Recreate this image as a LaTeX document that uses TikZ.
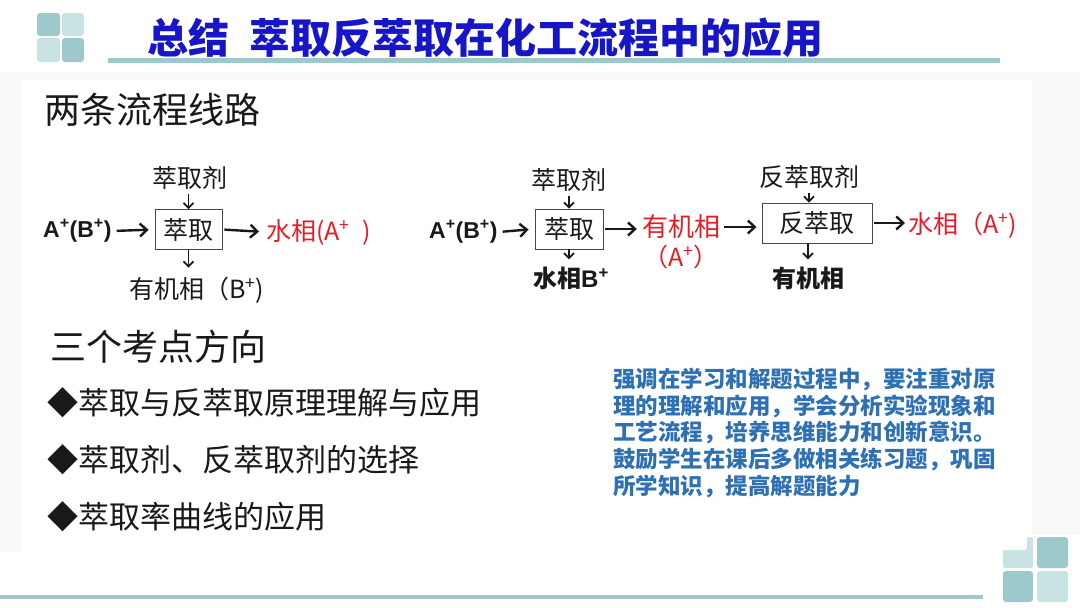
\documentclass[tikz,border=0pt]{standalone}
\usepackage{fontspec}
\setmainfont{Liberation Sans}
\newfontfamily\cjk{Noto Sans CJK SC}
\usetikzlibrary{arrows.meta, positioning, calc}
\definecolor{titleblue}{RGB}{22,22,200}
\definecolor{tealdark}{RGB}{157,201,204}
\definecolor{teallight}{RGB}{201,227,228}
\definecolor{phasered}{RGB}{228,30,38}
\definecolor{noteblue}{RGB}{46,112,180}
\definecolor{ink}{RGB}{25,25,25}

\begin{document}
\begin{tikzpicture}[x=1pt, y=-1pt, font=\cjk,
  sz/.style={font=\cjk\fontsize{#1}{#1}\selectfont},
  lbl/.style={sz=25, inner sep=1pt, text=ink},
  stage/.style={draw=ink!80, line width=0.9pt, minimum height=40pt, inner sep=2pt,
                sz=25, text=ink},
  flow/.style={draw=ink, line width=2.4pt,
               -{Straight Barb[length=7pt,width=13pt,line width=2.4pt]}},
  drop/.style={draw=ink, line width=1.8pt,
               -{Straight Barb[length=5pt,width=10pt,line width=1.8pt]}},
  tile/.style={rounded corners=3pt}]
  % page and panel
  \useasboundingbox (0,0) rectangle (1080,608);
  \fill[white] (0,0) rectangle (1080,608);
  \fill[gray!5] (0,72) rectangle (22,552);
  \fill[gray!4] (22,72) rectangle (1032,80);
  \fill[gray!5] (1032,72) rectangle (1080,535);
  % corner tiles
  \fill[tile, tealdark]  (37,13) rectangle (60,36);
  \fill[tile, teallight] (62,13) rectangle (84,36);
  \fill[tile, teallight] (37,38) rectangle (60,62);
  \fill[tile, tealdark]  (62,38) rectangle (84,62);
  \fill[tile, tealdark]  (1037,537) rectangle (1068,568);
  \fill[teallight, rounded corners=2pt]
    (1003,550) -- (1027,550) -- (1027,537) -- (1033,537) -- (1033,568) -- (1003,568) -- cycle;
  \fill[tile, tealdark]  (1003,571) rectangle (1033,602);
  \fill[tile, teallight] (1037,571) rectangle (1068,602);
  \fill[tealdark] (0,595) rectangle (983,599);
  % title
  \node[anchor=west, sz=41, text=titleblue, inner sep=0pt] (title) at (147,38)
    {\bfseries 总结\hspace{20pt}萃取反萃取在化工流程中的应用};
  \draw[tealdark, line width=5pt] (108,60) -- (1000,60);
  % headings
  \node[anchor=west, sz=36, text=ink, inner sep=0pt] (routes) at (44,110) {两条流程线路};
  \node[anchor=west, sz=36, text=ink, inner sep=0pt] (points) at (50,347) {三个考点方向};

  % route 1
  \node[anchor=west, inner sep=1pt, text=ink, font=\fontsize{23}{23}\selectfont\bfseries]
    (feed1) at (42,231) {A\textsuperscript{+}(B\textsuperscript{+})};
  \node[stage, minimum width=67pt] (ext1) at (188.5,229.5) {萃取};
  \node[lbl] (sol1) at (190,178) {萃取剂};
  \node[lbl, anchor=west, text=phasered] (aq1) at (265,232) {水相(A\textsuperscript{+}\enspace)};
  \node[lbl, anchor=west] (org1) at (128,290) {有机相（B\textsuperscript{+})};
  \draw[flow, shorten <=4pt, shorten >=6pt] (feed1.east) -- (ext1.west);
  \draw[flow, shorten <=2pt, shorten >=6pt] (ext1.east) -- (aq1.west);
  \draw[drop, shorten <=3pt] (ext1.north |- sol1.south) -- (ext1.north);
  \draw[drop, shorten >=8pt] (ext1.south) -- (ext1.south |- org1.north);

  % route 2
  \node[anchor=west, inner sep=1pt, text=ink, font=\fontsize{23}{23}\selectfont\bfseries]
    (feed2) at (428,232) {A\textsuperscript{+}(B\textsuperscript{+})};
  \node[stage, minimum width=68pt] (ext2) at (569,229) {萃取};
  \node[lbl] (sol2) at (569,180) {萃取剂};
  \node[lbl, font=\cjk\fontsize{24}{24}\selectfont\bfseries] (aq2) at (571,278)
    {水相\textrm{B\textsuperscript{+}}};
  \node[lbl, text=phasered, sz=26] (org2) at (681,227) {有机相};
  \node[lbl, text=phasered, below=4pt of org2] (org2b) {（A\textsuperscript{+}）};
  \node[stage, minimum width=110pt] (back) at (817,223) {反萃取};
  \node[lbl] (sol3) at (809,177) {反萃取剂};
  \node[lbl, anchor=west, text=phasered] (aq3) at (907,225) {水相（A\textsuperscript{+})};
  \node[lbl, font=\cjk\fontsize{24}{24}\selectfont\bfseries] (org3) at (808,278) {有机相};
  \draw[flow, shorten <=4pt, shorten >=6pt] (feed2.east) -- (ext2.west);
  \draw[flow, shorten <=2pt, shorten >=4pt] (ext2.east) -- (ext2.east -| org2.west);
  \draw[flow, shorten <=3pt, shorten >=5pt] (org2.east) -- (org2.east -| back.west);
  \draw[flow, shorten <=2pt, shorten >=2pt] (back.east) -- (back.east -| aq3.west);
  \draw[drop, shorten <=3pt] (ext2.north |- sol2.south) -- (ext2.north);
  \draw[drop, shorten >=6pt] (ext2.south) -- (ext2.south |- aq2.north);
  \draw[drop, shorten <=3pt] (sol3.south) -- (sol3.south |- back.north);
  \draw[drop, shorten >=6pt] (org3.north |- back.south) -- (org3.north);

  % exam points
  \node[anchor=west, sz=31, text=ink, inner sep=0pt] (pt1) at (47,403) {◆萃取与反萃取原理理解与应用};
  \node[anchor=west, sz=31, text=ink, inner sep=0pt] (pt2) at (47,460) {◆萃取剂、反萃取剂的选择};
  \node[anchor=west, sz=31, text=ink, inner sep=0pt] (pt3) at (47,517) {◆萃取率曲线的应用};

  % note
  \node[anchor=north west, align=left, inner sep=0pt, text=noteblue,
        font=\cjk\fontsize{22.5}{26.6}\selectfont\bfseries] (note) at (613,368)
    {强调在学习和解题过程中，要注重对原\\
     理的理解和应用，学会分析实验现象和\\
     工艺流程，培养思维能力和创新意识。\\
     鼓励学生在课后多做相关练习题，巩固\\
     所学知识，提高解题能力};
\end{tikzpicture}
\end{document}
